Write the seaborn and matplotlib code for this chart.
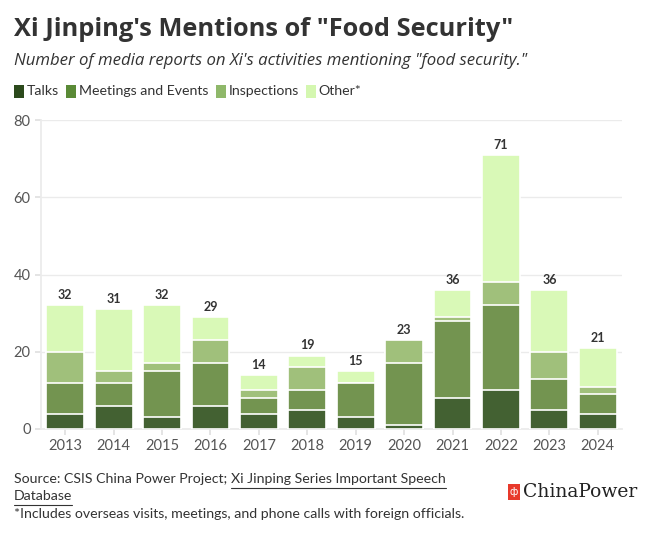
import matplotlib
matplotlib.use("Agg")
import matplotlib.pyplot as plt
from matplotlib.patches import Rectangle
from matplotlib.lines import Line2D
import seaborn as sns
import pandas as pd
import numpy as np

years = ["2013", "2014", "2015", "2016", "2017", "2018", "2019", "2020", "2021", "2022", "2023", "2024"]
talks = [4, 6, 3, 6, 4, 5, 3, 1, 8, 10, 5, 4]
meetings = [8, 6, 12, 11, 4, 5, 9, 16, 20, 22, 8, 5]
inspections = [8, 3, 2, 6, 2, 6, 0, 6, 1, 6, 7, 2]
other = [12, 16, 15, 6, 4, 3, 3, 0, 7, 33, 16, 10]
series_names = ["Talks", "Meetings and Events", "Inspections", "Other*"]
colors = ["#436132", "#739450", "#a0c07b", "#d9f9b7"]
legend_colors = ["#2c4a1c", "#5a8a36", "#8fb86a", "#d4f7b0"]

sns.set_theme(style="white")
plt.rcParams["font.family"] = ["Lato", "DejaVu Sans"]

df = pd.DataFrame({"year": years, "Talks": talks, "Meetings and Events": meetings,
                   "Inspections": inspections, "Other*": other})
cum = df[series_names].cumsum(axis=1)
df_cum = pd.concat([df[["year"]], cum], axis=1)

fig = plt.figure(figsize=(6.5, 5.35), dpi=100)
ax = fig.add_axes([41/650, 1-429/535, (622-41)/650, (429-120)/535])

for name, col in reversed(list(zip(series_names, colors))):
    sns.barplot(data=df_cum, x="year", y=name, color=col, ax=ax, width=0.78,
                edgecolor="white", linewidth=1.2, saturation=1, zorder=3)

totals = cum["Other*"].values
for i, t in enumerate(totals):
    ax.text(i, t + 1.1, f"{t}", ha="center", va="bottom", fontsize=9,
            fontweight="bold", color="#333333")

ax.set_ylim(0, 80)
ax.set_xlim(-0.5, 11.5)
ax.set_yticks([0, 20, 40, 60, 80])
ax.yaxis.grid(True, color="#ebebeb", linewidth=1, zorder=0)
ax.set_axisbelow(True)
ax.set_xlabel("")
ax.set_ylabel("")
for s in ["top", "right"]:
    ax.spines[s].set_visible(False)
ax.spines["left"].set_color("#ebebeb")
ax.spines["bottom"].set_color("#ebebeb")
ax.tick_params(axis="both", labelsize=10.5, colors="#555555", length=4, color="#e0e0e0",
               left=True, bottom=True)
for lbl in ax.get_xticklabels() + ax.get_yticklabels():
    lbl.set_color("#555555")

fig.text(14/650, 1-30/535, 'Xi Jinping\'s Mentions of "Food Security"', fontsize=18.3,
         fontweight="bold", color="#333333", va="center", ha="left",
         family=["Open Sans", "DejaVu Sans"])
fig.text(14/650, 1-61/535, 'Number of media reports on Xi\'s activities mentioning "food security."',
         fontsize=12.1, style="italic", color="#333333", va="center", ha="left",
         family=["Open Sans", "DejaVu Sans"])

# legend
x = 14
fig.canvas.draw()
r = fig.canvas.get_renderer()
for name, col in zip(series_names, legend_colors):
    fig.add_artist(Rectangle((x/650, 1-98/535), 10/650, 13/535, transform=fig.transFigure,
                             facecolor=col, edgecolor="none"))
    t = fig.text((x+13)/650, 1-91/535, name, fontsize=10.2, color="#333333", va="center", ha="left")
    bb = t.get_window_extent(renderer=r)
    x = bb.x1 + 7

# footer
fs = 10.2
t1 = fig.text(14/650, 1-479/535, "Source: CSIS China Power Project; ", fontsize=fs,
              color="#333333", va="center", ha="left")
bb1 = t1.get_window_extent(renderer=r)
t2 = fig.text(bb1.x1/650, 1-479/535, "Xi Jinping Series Important Speech", fontsize=fs,
              color="#333333", va="center", ha="left")
bb2 = t2.get_window_extent(renderer=r)
fig.add_artist(Line2D([bb2.x0/650, bb2.x1/650], [1-488/535]*2, transform=fig.transFigure,
                      color="#333333", linewidth=0.8))
t3 = fig.text(14/650, 1-496/535, "Database", fontsize=fs, color="#333333", va="center", ha="left")
bb3 = t3.get_window_extent(renderer=r)
fig.add_artist(Line2D([bb3.x0/650, bb3.x1/650], [1-505/535]*2, transform=fig.transFigure,
                      color="#333333", linewidth=0.8))
fig.text(14/650, 1-514/535, "*Includes overseas visits, meetings, and phone calls with foreign officials.",
         fontsize=fs, color="#333333", va="center", ha="left")

# logo
fig.add_artist(Rectangle((508/650, 1-500/535), 12/650, 16/535, transform=fig.transFigure,
                         facecolor="#e8392b", edgecolor="none"))
fig.text(514/650, 1-492/535, "ф", fontsize=7, color="white", va="center", ha="center",
         family="DejaVu Sans")
fig.text(523/650, 1-492/535, "ChinaPower", fontsize=13.5, color="#222222", va="center", ha="left",
         family="DejaVu Serif")

fig.savefig("out.png", dpi=100)
